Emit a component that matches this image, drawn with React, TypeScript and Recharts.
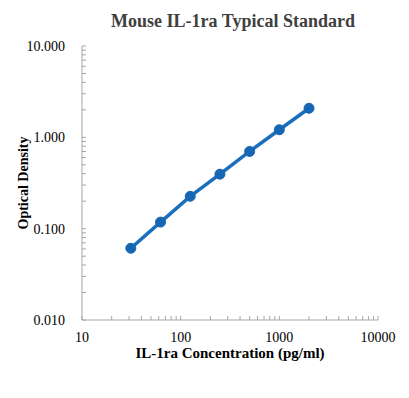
import { LineChart, Line, XAxis, YAxis } from 'recharts';

// standard curve
const concentrations = [31.25, 62.5, 125, 250, 500, 1000, 2000];
const odValues = [0.061, 0.118, 0.226, 0.395, 0.7, 1.21, 2.08];

const xTicks = [
    10, 20, 30, 40, 50, 60, 70, 80, 90,
    100, 200, 300, 400, 500, 600, 700, 800, 900,
    1000, 2000, 3000, 4000, 5000, 6000, 7000, 8000, 9000,
    10000,
];
const yTicks = [
    0.01, 0.02, 0.03, 0.04, 0.05, 0.06, 0.07, 0.08, 0.09,
    0.1, 0.2, 0.3, 0.4, 0.5, 0.6, 0.7, 0.8, 0.9,
    1, 2, 3, 4, 5, 6, 7, 8, 9,
    10,
];
const xLabels = [10, 100, 1000, 10000];
const yLabels = [0.01, 0.1, 1, 10];

const data = concentrations.map((c, i) => ({ conc: c, od: odValues[i] }));

const axisColor = '#a6a6a6';
const font = '"Liberation Serif", "Times New Roman", serif';

const XTick = (props: any) => {
    const { x, y, payload } = props;
    const major = xLabels.includes(payload.value);
    return (
        <g>
            <line x1={x} x2={x} y1={y} y2={y - 4} stroke={axisColor} />
            {major && (
                <text x={x} y={y + 22} textAnchor='middle' fontSize={14} fontFamily={font} fill='#000'>
                    {payload.value}
                </text>
            )}
        </g>
    );
};

const YTick = (props: any) => {
    const { x, y, payload } = props;
    const major = yLabels.includes(payload.value);
    return (
        <g>
            <line x1={x} x2={x + 4} y1={y} y2={y} stroke={axisColor} />
            {major && (
                <text x={x - 17} y={y + 5} textAnchor='end' fontSize={14} fontFamily={font} fill='#000'>
                    {payload.value.toFixed(3)}
                </text>
            )}
        </g>
    );
};

export default function App() {
    return (
        <div style={{ position: 'absolute', left: 0, top: 0, width: 409, height: 398, background: '#fff' }}>
            <div
                style={{
                    position: 'absolute',
                    left: 85,
                    top: 11,
                    width: 296,
                    textAlign: 'center',
                    fontFamily: font,
                    fontWeight: 'bold',
                    fontSize: 18,
                    lineHeight: '21px',
                    color: '#404040',
                }}
            >
                Mouse IL-1ra Typical Standard
            </div>
            <LineChart width={409} height={398} data={data} margin={{ top: 46, right: 31, bottom: 18, left: 22 }}>
                <XAxis
                    dataKey='conc'
                    type='number'
                    scale='log'
                    domain={[10, 10000]}
                    ticks={xTicks}
                    interval={0}
                    tickSize={0}
                    tickMargin={0}
                    tickLine={false}
                    tick={<XTick />}
                    stroke={axisColor}
                    height={60}
                    allowDataOverflow
                    label={{
                        content: (p: any) => {
                            const vb = p.viewBox;
                            return (
                                <text
                                    x={vb.x + vb.width / 2}
                                    y={vb.y + 38}
                                    textAnchor='middle'
                                    fontSize={15}
                                    fontWeight='bold'
                                    fontFamily={font}
                                    fill='#000'
                                >
                                    IL-1ra Concentration (pg/ml)
                                </text>
                            );
                        },
                    }}
                />
                <YAxis
                    dataKey='od'
                    type='number'
                    scale='log'
                    domain={[0.01, 10]}
                    ticks={yTicks}
                    interval={0}
                    tickSize={0}
                    tickMargin={0}
                    tickLine={false}
                    tick={<YTick />}
                    stroke={axisColor}
                    width={60}
                    allowDataOverflow
                    label={{
                        content: (p: any) => {
                            const vb = p.viewBox;
                            const cx = vb.x + 6;
                            const cy = vb.y + vb.height / 2;
                            return (
                                <text
                                    x={cx}
                                    y={cy}
                                    transform={`rotate(-90 ${cx} ${cy})`}
                                    textAnchor='middle'
                                    fontSize={14}
                                    fontWeight='bold'
                                    fontFamily={font}
                                    fill='#000'
                                >
                                    Optical Density
                                </text>
                            );
                        },
                    }}
                />
                <Line
                    dataKey='od'
                    stroke='#1a6fbd'
                    strokeWidth={3.5}
                    dot={{ r: 5, fill: '#1766b3', stroke: '#1766b3', strokeWidth: 1 }}
                    isAnimationActive={false}
                />
            </LineChart>
        </div>
    );
}
